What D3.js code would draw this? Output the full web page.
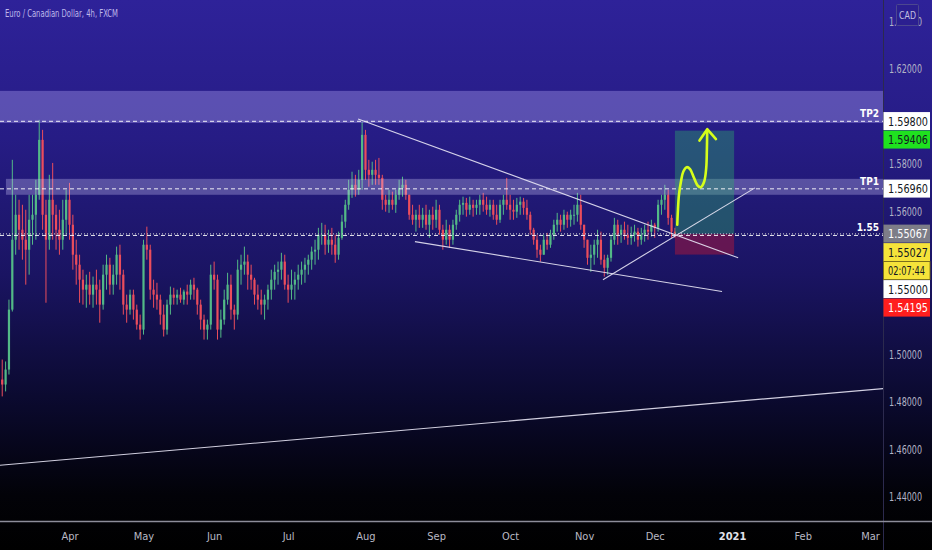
<!DOCTYPE html>
<html><head><meta charset="utf-8">
<script src="https://cdn.jsdelivr.net/npm/d3@7"></script>
<style>html,body{margin:0;padding:0;background:#000;overflow:hidden}</style>
</head><body>
<svg id="c" width="932" height="550"></svg>
<script>
const title = "Euro / Canadian Dollar, 4h, FXCM";
const firstOpen = 1.4880;
const highs = [
1.4928,1.4957,1.4978,1.4970,1.5230,1.5818,1.5671,1.5650,1.5629,1.5608,
1.5671,1.5671,1.5734,1.5986,1.5944,1.5650,1.5755,1.5805,1.5629,1.5608,
1.5650,1.5692,1.5721,1.5587,1.5482,1.5419,1.5356,1.5335,1.5347,1.5327,
1.5356,1.5314,1.5377,1.5419,1.5406,1.5377,1.5453,1.5461,1.5356,1.5251,
1.5272,1.5272,1.5209,1.5167,1.5482,1.5537,1.5461,1.5314,1.5301,1.5251,
1.5209,1.5230,1.5285,1.5280,1.5272,1.5280,1.5272,1.5293,1.5314,1.5322,
1.5280,1.5230,1.5167,1.5146,1.5377,1.5390,1.5335,1.5188,1.5272,1.5343,
1.5335,1.5209,1.5398,1.5419,1.5453,1.5419,1.5377,1.5322,1.5293,1.5272,
1.5251,1.5293,1.5356,1.5377,1.5390,1.5427,1.5419,1.5335,1.5356,1.5347,
1.5377,1.5390,1.5406,1.5419,1.5453,1.5482,1.5532,1.5553,1.5545,1.5524,
1.5532,1.5503,1.5516,1.5587,1.5650,1.5734,1.5768,1.5755,1.5776,1.5978,
1.5944,1.5818,1.5810,1.5818,1.5826,1.5755,1.5671,1.5692,1.5684,1.5692,
1.5734,1.5747,1.5734,1.5671,1.5629,1.5608,1.5629,1.5616,1.5629,1.5608,
1.5621,1.5650,1.5629,1.5545,1.5566,1.5545,1.5566,1.5608,1.5650,1.5663,
1.5658,1.5663,1.5650,1.5650,1.5671,1.5679,1.5663,1.5650,1.5650,1.5629,
1.5650,1.5671,1.5742,1.5671,1.5650,1.5658,1.5663,1.5658,1.5650,1.5600,
1.5532,1.5503,1.5461,1.5503,1.5511,1.5524,1.5566,1.5595,1.5587,1.5608,
1.5600,1.5608,1.5629,1.5679,1.5671,1.5545,1.5482,1.5461,1.5482,1.5524,
1.5516,1.5419,1.5419,1.5503,1.5574,1.5566,1.5545,1.5558,1.5545,1.5537,
1.5545,1.5532,1.5532,1.5545,1.5558,1.5566,1.5553,1.5650,1.5671,1.5713,
1.5692,1.5587,1.5532];
const lows = [
1.4802,1.4810,1.4823,1.4844,1.4915,1.5180,1.5419,1.5440,1.5398,1.5293,
1.5335,1.5461,1.5482,1.5650,1.5524,1.5217,1.5440,1.5482,1.5440,1.5419,
1.5440,1.5503,1.5482,1.5356,1.5293,1.5217,1.5209,1.5196,1.5209,1.5196,
1.5209,1.5133,1.5188,1.5272,1.5251,1.5251,1.5293,1.5272,1.5167,1.5133,
1.5167,1.5146,1.5104,1.5062,1.5083,1.5398,1.5230,1.5196,1.5188,1.5125,
1.5075,1.5083,1.5167,1.5209,1.5209,1.5217,1.5209,1.5209,1.5230,1.5230,
1.5167,1.5104,1.5062,1.5062,1.5104,1.5272,1.5062,1.5070,1.5125,1.5209,
1.5146,1.5104,1.5146,1.5293,1.5335,1.5272,1.5272,1.5209,1.5188,1.5167,
1.5146,1.5188,1.5230,1.5272,1.5293,1.5314,1.5272,1.5217,1.5230,1.5230,
1.5272,1.5293,1.5301,1.5335,1.5356,1.5377,1.5398,1.5461,1.5419,1.5427,
1.5419,1.5385,1.5398,1.5482,1.5532,1.5608,1.5658,1.5663,1.5671,1.5692,
1.5734,1.5705,1.5713,1.5713,1.5713,1.5608,1.5600,1.5595,1.5608,1.5595,
1.5650,1.5663,1.5650,1.5566,1.5545,1.5516,1.5532,1.5532,1.5524,1.5490,
1.5524,1.5532,1.5503,1.5440,1.5461,1.5448,1.5461,1.5524,1.5558,1.5587,
1.5579,1.5587,1.5579,1.5587,1.5587,1.5600,1.5587,1.5579,1.5566,1.5545,
1.5553,1.5587,1.5608,1.5566,1.5566,1.5574,1.5587,1.5587,1.5566,1.5503,
1.5461,1.5406,1.5390,1.5419,1.5440,1.5448,1.5482,1.5516,1.5516,1.5524,
1.5532,1.5537,1.5545,1.5558,1.5524,1.5448,1.5377,1.5347,1.5377,1.5406,
1.5377,1.5327,1.5335,1.5390,1.5461,1.5461,1.5469,1.5482,1.5461,1.5461,
1.5474,1.5453,1.5461,1.5474,1.5482,1.5495,1.5490,1.5516,1.5587,1.5608,
1.5545,1.5490,1.5490];
const closes = [
1.4852,1.4894,1.4873,1.4936,1.5188,1.5482,1.5587,1.5524,1.5482,1.5440,
1.5566,1.5587,1.5671,1.5902,1.5587,1.5482,1.5650,1.5587,1.5524,1.5482,
1.5566,1.5650,1.5545,1.5419,1.5377,1.5314,1.5272,1.5293,1.5251,1.5293,
1.5272,1.5209,1.5335,1.5377,1.5293,1.5335,1.5419,1.5335,1.5209,1.5188,
1.5251,1.5188,1.5125,1.5104,1.5461,1.5440,1.5272,1.5251,1.5230,1.5167,
1.5104,1.5209,1.5251,1.5238,1.5251,1.5230,1.5264,1.5251,1.5293,1.5272,
1.5209,1.5146,1.5104,1.5125,1.5335,1.5314,1.5104,1.5146,1.5230,1.5293,
1.5188,1.5167,1.5356,1.5377,1.5390,1.5335,1.5314,1.5251,1.5230,1.5209,
1.5230,1.5272,1.5314,1.5347,1.5356,1.5390,1.5293,1.5272,1.5293,1.5314,
1.5335,1.5356,1.5377,1.5398,1.5432,1.5440,1.5503,1.5503,1.5461,1.5482,
1.5461,1.5419,1.5490,1.5558,1.5629,1.5692,1.5713,1.5692,1.5734,1.5923,
1.5776,1.5755,1.5776,1.5755,1.5742,1.5650,1.5629,1.5650,1.5629,1.5671,
1.5700,1.5713,1.5671,1.5587,1.5566,1.5587,1.5566,1.5587,1.5545,1.5587,
1.5566,1.5608,1.5524,1.5482,1.5524,1.5482,1.5545,1.5587,1.5629,1.5637,
1.5608,1.5629,1.5616,1.5629,1.5650,1.5629,1.5608,1.5629,1.5587,1.5566,
1.5629,1.5650,1.5629,1.5608,1.5600,1.5629,1.5642,1.5616,1.5587,1.5524,
1.5482,1.5440,1.5419,1.5482,1.5461,1.5503,1.5545,1.5566,1.5545,1.5587,
1.5566,1.5587,1.5587,1.5629,1.5545,1.5482,1.5406,1.5419,1.5461,1.5482,
1.5398,1.5364,1.5406,1.5482,1.5545,1.5503,1.5524,1.5503,1.5490,1.5503,
1.5516,1.5482,1.5503,1.5524,1.5516,1.5545,1.5532,1.5629,1.5650,1.5671,
1.5574,1.5516,1.5507];
const priceTicks = [1.44,1.46,1.48,1.50,1.56,1.58,1.62,1.64];
const zones = [
  {from:-3, to:300, top:1.6108, bottom:1.5973, fill:"rgba(190,180,255,0.34)"},
  {from:3.1, to:300, top:1.5738, bottom:1.5671, fill:"rgba(215,210,255,0.30)"}
];
const levels = [
  {label:"TP2", price:1.598},
  {label:"TP1", price:1.5696},
  {label:"1.55", price:1.55}
];
const lastPrice = 1.55067;
const trendLines = [
  [[107.8,1.5990],[220.8,1.5406]],
  [[124.7,1.5474],[216.0,1.5264]],
  [[180.6,1.5314],[225.8,1.5700]],
  [[-1.34,1.4530],[263.9,1.4856]]
];
const position = {from:202.0, to:219.6, entry:1.55067, target:1.59406, stop:1.54195};
const arrowPath = [[202.7,1.5545],[202.9,1.5608],[203.2,1.5671],[203.8,1.5727],[204.5,1.5769],[205.5,1.5787],[206.5,1.5779],[207.7,1.5741],[208.8,1.5709],[209.7,1.5703],[210.7,1.5727],[211.3,1.5783],[211.5,1.5860],[211.6,1.5941]];
const arrowHead = [[209.3,1.5899],[211.6,1.5947],[214.2,1.5905]];
const tags = [
  {text:"1.59800", price:1.598, bg:"#ffffff", fg:"#131722"},
  {text:"1.59406", price:1.59406, bg:"#1fe21f", fg:"#131722"},
  {text:"1.56960", price:1.5696, bg:"#ffffff", fg:"#131722"},
  {text:"1.55067", price:1.55067, bg:"#7d7d88", fg:"#ffffff"},
  {text:"1.55027", price:1.55027, bg:"#f5e33a", fg:"#131722"},
  {text:"02:07:44", price:1.55027, bg:"#f5e33a", fg:"#131722"},
  {text:"1.55000", price:1.55, bg:"#ffffff", fg:"#131722"},
  {text:"1.54195", price:1.54195, bg:"#ff1e1e", fg:"#ffffff"}
];

const W = 932, H = 550, plotR = 883, plotB = 521;
const narrow = "'Liberation Sans Narrow','DejaVu Sans Condensed',sans-serif";
const svg = d3.select("#c");
const defs = svg.append("defs");
const grad = defs.append("linearGradient").attr("id","bg").attr("x1",0).attr("y1",0).attr("x2",0).attr("y2",1);
[[0,"#2e2299"],[0.25,"#261c85"],[0.5,"#1a1462"],[0.72,"#0b0a30"],[0.9,"#020208"],[1,"#000000"]]
  .forEach(([o,c]) => grad.append("stop").attr("offset",o).attr("stop-color",c));
defs.append("clipPath").attr("id","plot").append("rect").attr("width",plotR).attr("height",plotB);

svg.append("rect").attr("width",W).attr("height",H).attr("fill","url(#bg)");

const days = d3.timeDay.range(new Date(2020,2,2), new Date(2021,3,1)).filter(d => d.getDay()!==0 && d.getDay()!==6);
const x = d3.scaleLinear().domain([22,260]).range([69.5,870]);
const y = d3.scaleLinear().domain([1.44,1.62]).range([497,69]);

const candles = closes.map((c,i) => {
  const o = i===0 ? firstOpen : closes[i-1];
  return {i, o, c, h: Math.max(highs[i],o,c), l: Math.min(lows[i],o,c)};
});

const plot = svg.append("g").attr("clip-path","url(#plot)");

const up = "#53b987", dn = "#eb4d5c";
const cg = plot.append("g");
cg.selectAll("line").data(candles).join("line")
  .attr("x1",d=>x(d.i)).attr("x2",d=>x(d.i))
  .attr("y1",d=>y(d.h)).attr("y2",d=>y(d.l))
  .attr("stroke",d=>d.c>=d.o?up:dn).attr("stroke-width",1);
cg.selectAll("rect").data(candles).join("rect")
  .attr("x",d=>x(d.i)-1.1).attr("width",2.2)
  .attr("y",d=>y(Math.max(d.o,d.c)))
  .attr("height",d=>Math.max(1,Math.abs(y(d.o)-y(d.c))))
  .attr("fill",d=>d.c>=d.o?up:dn);

plot.selectAll("rect.zone").data(zones).join("rect").attr("class","zone")
  .attr("x",d=>x(d.from)).attr("width",d=>x(d.to)-x(d.from))
  .attr("y",d=>y(d.top)).attr("height",d=>y(d.bottom)-y(d.top))
  .attr("fill",d=>d.fill);

plot.append("rect").attr("x",x(position.from)).attr("width",x(position.to)-x(position.from))
  .attr("y",y(position.target)).attr("height",y(position.entry)-y(position.target))
  .attr("fill","rgba(45,180,105,0.38)");
plot.append("rect").attr("x",x(position.from)).attr("width",x(position.to)-x(position.from))
  .attr("y",y(position.entry)).attr("height",y(position.stop)-y(position.entry))
  .attr("fill","rgba(200,25,50,0.42)");

plot.append("line").attr("x1",0).attr("x2",plotR).attr("y1",y(lastPrice)).attr("y2",y(lastPrice))
  .attr("stroke","#b8b8c4").attr("stroke-width",1.2).attr("stroke-dasharray","1,2");
plot.selectAll("line.lvl").data(levels).join("line").attr("class","lvl")
  .attr("x1",0).attr("x2",plotR).attr("y1",d=>y(d.price)).attr("y2",d=>y(d.price))
  .attr("stroke","#ffffff").attr("stroke-opacity",0.9).attr("stroke-width",1).attr("stroke-dasharray","4,3");
plot.selectAll("text.lvl").data(levels).join("text").attr("class","lvl")
  .attr("x",879).attr("y",d=>y(d.price)-4).attr("text-anchor","end")
  .attr("fill","#fff").attr("font-family",narrow).attr("font-weight","bold").attr("font-size",10)
  .text(d=>d.label);

plot.selectAll("line.tl").data(trendLines).join("line").attr("class","tl")
  .attr("x1",d=>x(d[0][0])).attr("y1",d=>y(d[0][1]))
  .attr("x2",d=>x(d[1][0])).attr("y2",d=>y(d[1][1]))
  .attr("stroke","#e8e6f5").attr("stroke-width",1.1).attr("stroke-opacity",0.9);

const ln = d3.line().x(d=>x(d[0])).y(d=>y(d[1]));
plot.append("path").attr("d",ln.curve(d3.curveCatmullRom)(arrowPath))
  .attr("fill","none").attr("stroke","#d6ff1a").attr("stroke-width",2.6).attr("stroke-linecap","round");
plot.append("path").attr("d",d3.line().x(d=>x(d[0])).y(d=>y(d[1]))(arrowHead))
  .attr("fill","none").attr("stroke","#d6ff1a").attr("stroke-width",2.6).attr("stroke-linecap","round").attr("stroke-linejoin","round");

svg.append("line").attr("x1",plotR+0.5).attr("x2",plotR+0.5).attr("y1",0).attr("y2",H)
  .attr("stroke","#2c2a4e").attr("stroke-width",1);
svg.append("line").attr("x1",0).attr("x2",W).attr("y1",plotB+0.5).attr("y2",plotB+0.5)
  .attr("stroke","#8d8d9a").attr("stroke-width",1.5);

const ay = svg.append("g").attr("transform",`translate(${plotR},0)`)
  .call(d3.axisRight(y).tickValues(priceTicks).tickFormat(d3.format(".5f")).tickSize(0).tickPadding(6));
ay.select(".domain").remove();
ay.selectAll("text").attr("fill","#b3b3c6").attr("font-family",narrow).attr("font-size",11.5)
  .attr("textLength",33).attr("lengthAdjust","spacingAndGlyphs");

const monthIdx = days.map((d,i)=>i).filter(i => i>0 && days[i].getMonth()!==days[i-1].getMonth() && x(i)>10 && x(i)<880);
const ax = svg.append("g").attr("transform",`translate(0,${plotB})`)
  .call(d3.axisBottom(x).tickValues(monthIdx).tickSize(0).tickPadding(11)
    .tickFormat(i => days[i].getMonth()===0 ? d3.timeFormat("%Y")(days[i]) : d3.timeFormat("%b")(days[i])));
ax.select(".domain").remove();
ax.selectAll("text").attr("font-family",narrow).attr("font-size",11)
  .attr("font-weight",i=>days[i].getMonth()===0?"bold":"normal")
  .attr("fill",i=>days[i].getMonth()===0?"#e2e2ea":"#b9b9c4");

const tagH = 18.5;
let lastBottom = -Infinity;
tags.forEach(t => {
  const cy = y(t.price);
  const top = Math.max(cy - tagH/2, lastBottom);
  lastBottom = top + tagH;
  t.top = top;
});
const tg = svg.append("g").selectAll("g").data(tags).join("g");
tg.append("rect").attr("x",plotR+0.5).attr("y",d=>d.top).attr("width",46.5).attr("height",tagH-0.5)
  .attr("fill",d=>d.bg).attr("stroke",d=>d.text.includes(":")?"#7a6e10":"none").attr("stroke-width",0.8);
tg.append("text").attr("x",plotR+5).attr("y",d=>d.top+tagH/2).attr("dy","0.36em")
  .attr("fill",d=>d.fg).attr("font-family",narrow).attr("font-size",12)
  .attr("textLength",d=>d.text.includes(":")?37:40).attr("lengthAdjust","spacingAndGlyphs")
  .text(d=>d.text);

svg.append("rect").attr("x",896.5).attr("y",4.5).attr("width",22).attr("height",21)
  .attr("fill","#2b1f90").attr("stroke","#4c478f").attr("stroke-width",1).attr("rx",1);
svg.append("text").attr("x",907.5).attr("y",15).attr("dy","0.35em").attr("text-anchor","middle")
  .attr("fill","#c2c0e0").attr("font-family",narrow).attr("font-size",10.5)
  .attr("textLength",17).attr("lengthAdjust","spacingAndGlyphs").text("CAD");

svg.append("text").attr("x",5).attr("y",13).attr("dy","0.35em")
  .attr("fill","#bdb8ea").attr("font-family",narrow).attr("font-size",11)
  .attr("textLength",113).attr("lengthAdjust","spacingAndGlyphs").text(title);
</script>
</body></html>
